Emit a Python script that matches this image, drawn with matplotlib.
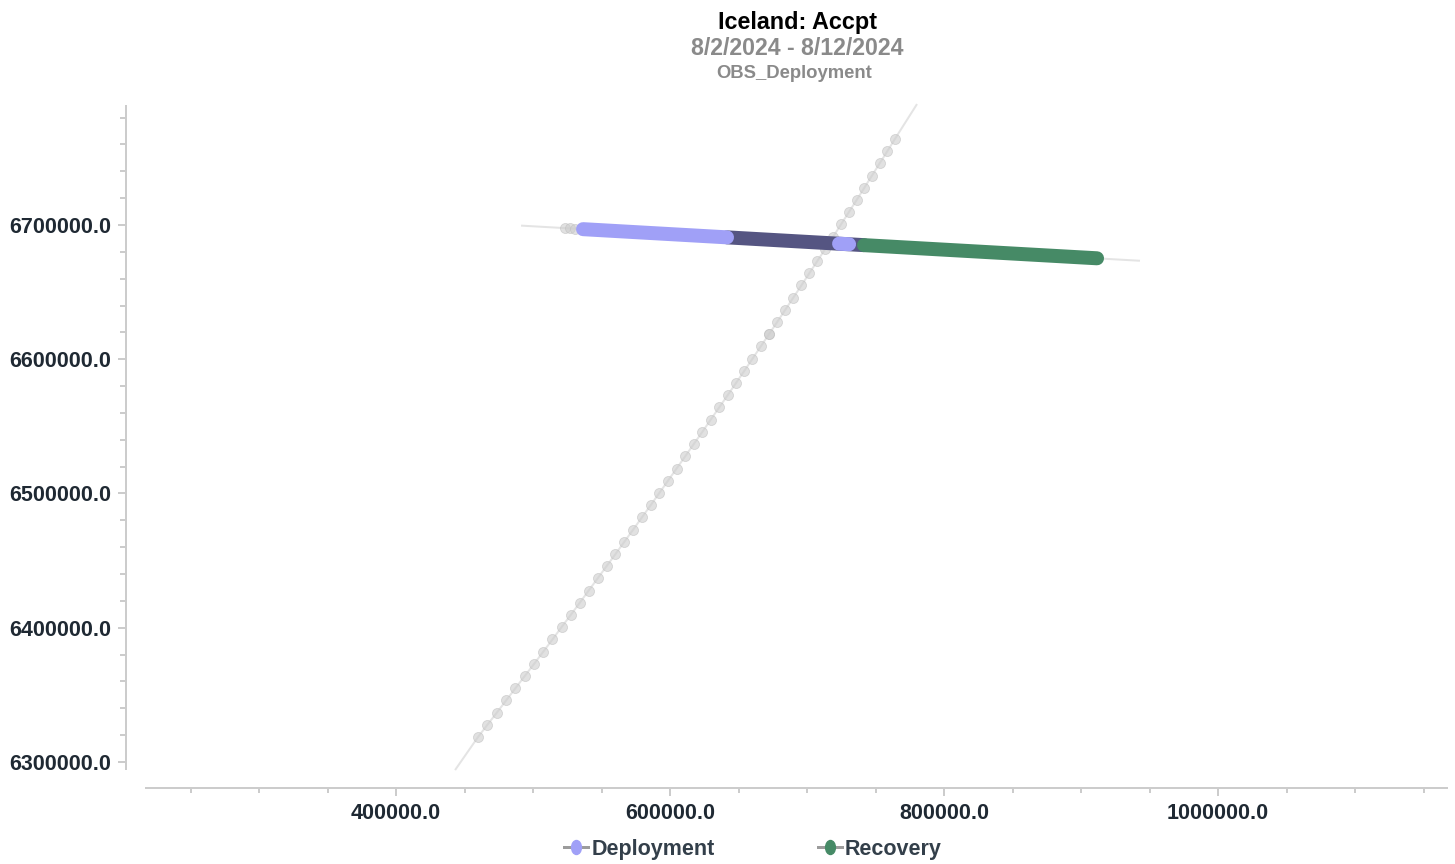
import matplotlib
matplotlib.use('Agg')
import matplotlib.pyplot as plt
from matplotlib.ticker import MultipleLocator, FormatStrFormatter
from matplotlib.path import Path
from matplotlib.transforms import Affine2D
from matplotlib.lines import Line2D

plt.rcParams['font.family'] = ['Liberation Sans', 'DejaVu Sans']
plt.rcParams['font.weight'] = 'bold'

# ---------------- data ----------------
title = 'Iceland: Accpt'
subtitle = '8/2/2024 - 8/12/2024'
subsubtitle = 'OBS_Deployment'
series_names = ['Deployment', 'Recovery']

# diagonal source line (end points) and its stations
diag_start = (443100, 6294000)
diag_end = (780300, 6790100)
station_x = [459850, 466700, 473600, 480400, 487200, 494000, 500800, 507500, 514200, 520800,
             527500, 534100, 540600, 547200, 553700, 560200, 566700, 573100, 579500, 585900,
             592200, 598500, 604800, 611100, 617300, 623600, 629700, 635900, 642000, 648100,
             654200, 660200, 666200, 672200, 678200, 684100, 690000, 695900, 701700, 707500,
             713300, 719100, 724800, 730500, 736200, 741800, 747400, 753000, 758600, 764100]
station_y = [6318600, 6327700, 6336800, 6345900, 6355000, 6364100, 6373100, 6382200, 6391300, 6400400,
             6409500, 6418600, 6427700, 6436800, 6445900, 6454900, 6464100, 6473100, 6482200, 6491300,
             6500400, 6509500, 6518600, 6527700, 6536800, 6545900, 6555000, 6564100, 6573100, 6582200,
             6591300, 6600400, 6609500, 6618600, 6627700, 6636800, 6645900, 6655000, 6664100, 6673100,
             6682200, 6691300, 6700400, 6709500, 6718600, 6727700, 6736800, 6745900, 6754900, 6764000]
overlap_x = [672200]
overlap_y = [6618600]

# horizontal receiver line
track_x = [492000, 942300]
track_y = [6699500, 6673400]
track_dots_x = [523400, 527000, 530700]
track_dots_y = [6697700, 6697500, 6697300]

deploy_x = [536500, 641600]
deploy_y = [6696900, 6690800]
deploy_dark_x = [641600, 741600]
deploy_dark_y = [6690800, 6685000]
deploy_extra_x = [723400, 730700]
deploy_extra_y = [6686100, 6685700]
recovery_x = [741600, 911700]
recovery_y = [6685000, 6675200]

# ---------------- styling ----------------
C_DEPLOY = '#a0a0f7'
C_DARK = '#555582'
C_RECOV = '#468a66'
C_GRAYLINE = '#e4e4e4'
C_AXIS = '#cccccc'
C_TICKLABEL = '#1f2933'
PX = 72 / 100  # points per pixel

fig = plt.figure(figsize=(14.55, 8.64), dpi=100)
ax = fig.add_axes([146 / 1455, 95 / 864, 1301 / 1455, 663 / 864])
ax.set_xlim(217500, 1167150)
ax.set_ylim(6294785, 6788640)

for s in ['top', 'right']:
    ax.spines[s].set_visible(False)
ax.spines['left'].set_position(('outward', 20 * PX))
ax.spines['bottom'].set_position(('outward', 19 * PX))
for s in ['left', 'bottom']:
    ax.spines[s].set_color(C_AXIS)
    ax.spines[s].set_linewidth(2 * PX)

ax.xaxis.set_major_locator(MultipleLocator(200000))
ax.xaxis.set_minor_locator(MultipleLocator(50000))
ax.yaxis.set_major_locator(MultipleLocator(100000))
ax.yaxis.set_minor_locator(MultipleLocator(20000))
ax.xaxis.set_major_formatter(FormatStrFormatter('%.1f'))
ax.yaxis.set_major_formatter(FormatStrFormatter('%.1f'))

ax.tick_params(axis='both', which='major', length=8 * PX, width=2 * PX, color=C_AXIS,
               labelsize=15.5, labelcolor=C_TICKLABEL, pad=5)
ax.tick_params(axis='x', which='minor', length=5 * PX, width=2 * PX, color=C_AXIS)
ax.tick_params(axis='y', which='minor', length=6 * PX, width=2 * PX, color=C_AXIS)

DOT = dict(marker='o', ls='none', ms=10 * PX, mfc='#cdcdcd', mec='#bfbfbf', mew=0.6, alpha=0.6)

# diagonal line
ax.plot([diag_start[0]] + station_x + [diag_end[0]],
        [diag_start[1]] + station_y + [diag_end[1]],
        color=C_GRAYLINE, lw=2 * PX, zorder=1, clip_on=False, solid_capstyle='butt')
ax.plot(station_x, station_y, zorder=2, clip_on=False, **DOT)
ax.plot(overlap_x, overlap_y, zorder=2, **DOT)

# horizontal track
ax.plot(track_x, track_y, color=C_GRAYLINE, lw=2 * PX, zorder=1)
ax.plot(track_dots_x, track_dots_y, zorder=2, **DOT)

BAND = 14 * PX
ax.plot(deploy_dark_x, deploy_dark_y, color=C_DARK, lw=BAND, solid_capstyle='round', zorder=3)
ax.plot(deploy_x, deploy_y, color=C_DEPLOY, lw=BAND, solid_capstyle='round', zorder=4)
ax.plot(deploy_extra_x, deploy_extra_y, color=C_DEPLOY, lw=BAND, solid_capstyle='round', zorder=4)
ax.plot(recovery_x, recovery_y, color=C_RECOV, lw=BAND, solid_capstyle='round', zorder=4)

# titles
fig.text(797 / 1455, 1 - 28.5 / 864, title, ha='center', va='baseline', fontsize=16.8, color='black')
fig.text(797 / 1455, 1 - 55 / 864, subtitle, ha='center', va='baseline', fontsize=16.7, color='#8a8a8a')
fig.text(794 / 1455, 1 - 78 / 864, subsubtitle, ha='center', va='baseline', fontsize=13.3, color='#8a8a8a')

# legend
ell = Path.unit_circle().transformed(Affine2D().scale(0.7, 1.0))
handles = [
    Line2D([], [], color='#9c9c9c', lw=3 * PX, marker=ell, ms=14 * PX, mfc=C_DEPLOY, mec=C_DEPLOY),
    Line2D([], [], color='#9c9c9c', lw=3 * PX, marker=ell, ms=14 * PX, mfc=C_RECOV, mec=C_RECOV),
]
fig.legend(handles, series_names, loc='center', bbox_to_anchor=(753 / 1455, 1 - 849 / 864),
           ncol=2, frameon=False, fontsize=15.5, handlelength=1.1, handletextpad=0.15,
           columnspacing=4.8, labelcolor='#333f4a', borderpad=0, borderaxespad=0)

fig.savefig('out.png', dpi=100)
